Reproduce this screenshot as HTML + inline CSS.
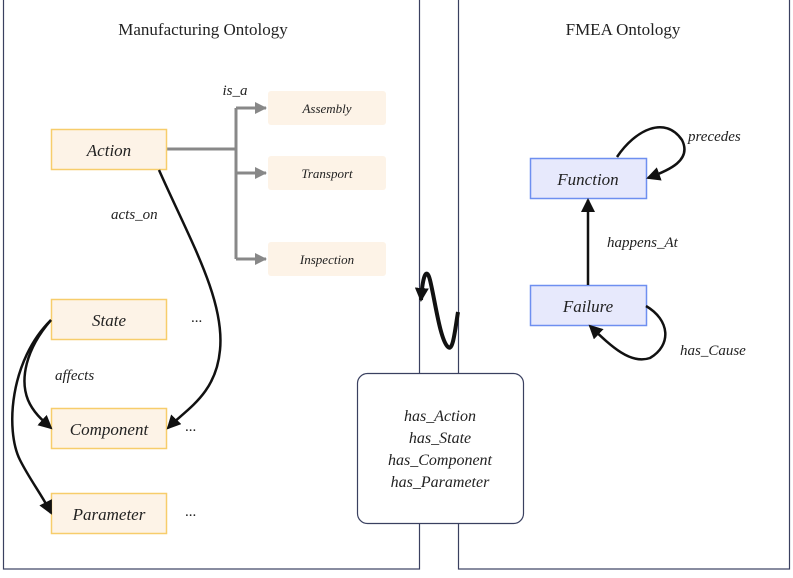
<!DOCTYPE html>
<html><head><meta charset="utf-8"><style>
body{margin:0;background:#fff;}
svg text{font-family:"Liberation Serif",serif;font-style:italic;fill:#222;}
</style></head><body>
<svg width="793" height="573" viewBox="0 0 793 573" xmlns="http://www.w3.org/2000/svg">
<defs>
<marker id="ab" markerWidth="8" markerHeight="8" refX="7" refY="4" orient="auto" markerUnits="userSpaceOnUse" viewBox="0 0 8 8"><path d="M0,0 L8,4 L0,8 z" fill="#111"/></marker>
<marker id="ab2" markerWidth="14" markerHeight="14" refX="12" refY="7" orient="auto" markerUnits="userSpaceOnUse" viewBox="0 0 14 14"><path d="M0,0 L14,7 L0,14 z" fill="#111"/></marker>
<marker id="ag" markerWidth="12" markerHeight="12" refX="11" refY="6" orient="auto" markerUnits="userSpaceOnUse" viewBox="0 0 12 12"><path d="M0,0 L12,6 L0,12 z" fill="#888"/></marker>
</defs>
<rect x="3.5" y="-2" width="416" height="571" fill="none" stroke="#3a4060" stroke-width="1.2"/>
<rect x="458.5" y="-2" width="331" height="571" fill="none" stroke="#3a4060" stroke-width="1.2"/>
<text x="203" y="35" text-anchor="middle" font-size="17" style="font-style:normal">Manufacturing Ontology</text>
<text x="623" y="35" text-anchor="middle" font-size="17" style="font-style:normal">FMEA Ontology</text>

<!-- is_a -->
<g stroke="#888" stroke-width="3" fill="none">
<path d="M167,149 H236"/>
<path d="M236,108 V259"/>
<path d="M236,108 H266" marker-end="url(#ag)"/>
<path d="M236,173 H266" marker-end="url(#ag)"/>
<path d="M236,259 H266" marker-end="url(#ag)"/>
</g>
<text x="235" y="95" text-anchor="middle" font-size="15">is_a</text>
<g fill="#fdf3e7">
<rect x="268" y="91" width="118" height="34" rx="3"/>
<rect x="268" y="156" width="118" height="34" rx="3"/>
<rect x="268" y="242" width="118" height="34" rx="3"/>
</g>
<text x="327" y="113" text-anchor="middle" font-size="13">Assembly</text>
<text x="327" y="178" text-anchor="middle" font-size="13">Transport</text>
<text x="327" y="264" text-anchor="middle" font-size="13">Inspection</text>

<!-- left boxes -->
<g fill="#fdf3e7" stroke="#f7cd6b" stroke-width="1.5">
<rect x="51.5" y="129.5" width="115" height="40"/>
<rect x="51.5" y="299.5" width="115" height="40"/>
<rect x="51.5" y="408.5" width="115" height="40"/>
<rect x="51.5" y="493.5" width="115" height="40"/>
</g>
<text x="109" y="156" text-anchor="middle" font-size="17">Action</text>
<text x="109" y="326" text-anchor="middle" font-size="17">State</text>
<text x="109" y="435" text-anchor="middle" font-size="17">Component</text>
<text x="109" y="520" text-anchor="middle" font-size="17">Parameter</text>
<text x="191" y="322" font-size="15" style="font-style:normal">...</text>
<text x="185" y="431" font-size="15" style="font-style:normal">...</text>
<text x="185" y="516" font-size="15" style="font-style:normal">...</text>

<g stroke="#111" stroke-width="2.5" fill="none">
<path d="M159,170 C190,240 225,300 220,350 C216,395 185,410 168,428" marker-end="url(#ab2)"/>
<path d="M51,320 C25,350 20,380 28,400 C33,412 42,420 51,428" marker-end="url(#ab2)"/>
<path d="M51,320 C10,360 5,430 20,460 C30,480 42,495 51,513" marker-end="url(#ab2)"/>
</g>
<text x="111" y="219" font-size="15">acts_on</text>
<text x="55" y="380" font-size="15">affects</text>

<!-- right -->
<g fill="#e7e9fc" stroke="#6e8ff0" stroke-width="1.5">
<rect x="530.5" y="158.5" width="116" height="40"/>
<rect x="530.5" y="285.5" width="116" height="40"/>
</g>
<text x="588" y="185" text-anchor="middle" font-size="17">Function</text>
<text x="588" y="312" text-anchor="middle" font-size="17">Failure</text>
<g stroke="#111" stroke-width="2.5" fill="none">
<path d="M588,285 V200" marker-end="url(#ab2)"/>
<path d="M617,157 C635,130 665,115 682,140 C692,160 670,170 648,178" marker-end="url(#ab2)"/>
<path d="M646,306 C670,320 672,345 650,358 C630,365 610,345 590,326" marker-end="url(#ab2)"/>
</g>
<text x="688" y="141" font-size="15">precedes</text>
<text x="607" y="247" font-size="15">happens_At</text>
<text x="680" y="355" font-size="15">has_Cause</text>

<!-- middle -->
<rect x="357.5" y="373.5" width="166" height="150" rx="10" fill="#fff" stroke="#3a4060" stroke-width="1.2"/>
<text x="440" y="421" text-anchor="middle" font-size="16">has_Action</text>
<text x="440" y="443" text-anchor="middle" font-size="16">has_State</text>
<text x="440" y="465" text-anchor="middle" font-size="16">has_Component</text>
<text x="440" y="487" text-anchor="middle" font-size="16">has_Parameter</text>

<path d="M458,312 C455,330 453,352 448,347 C440,340 435,300 430,280 C427,268 423,272 421,300" stroke="#111" stroke-width="4" fill="none" marker-end="url(#ab2)"/>
</svg>
</body></html>
